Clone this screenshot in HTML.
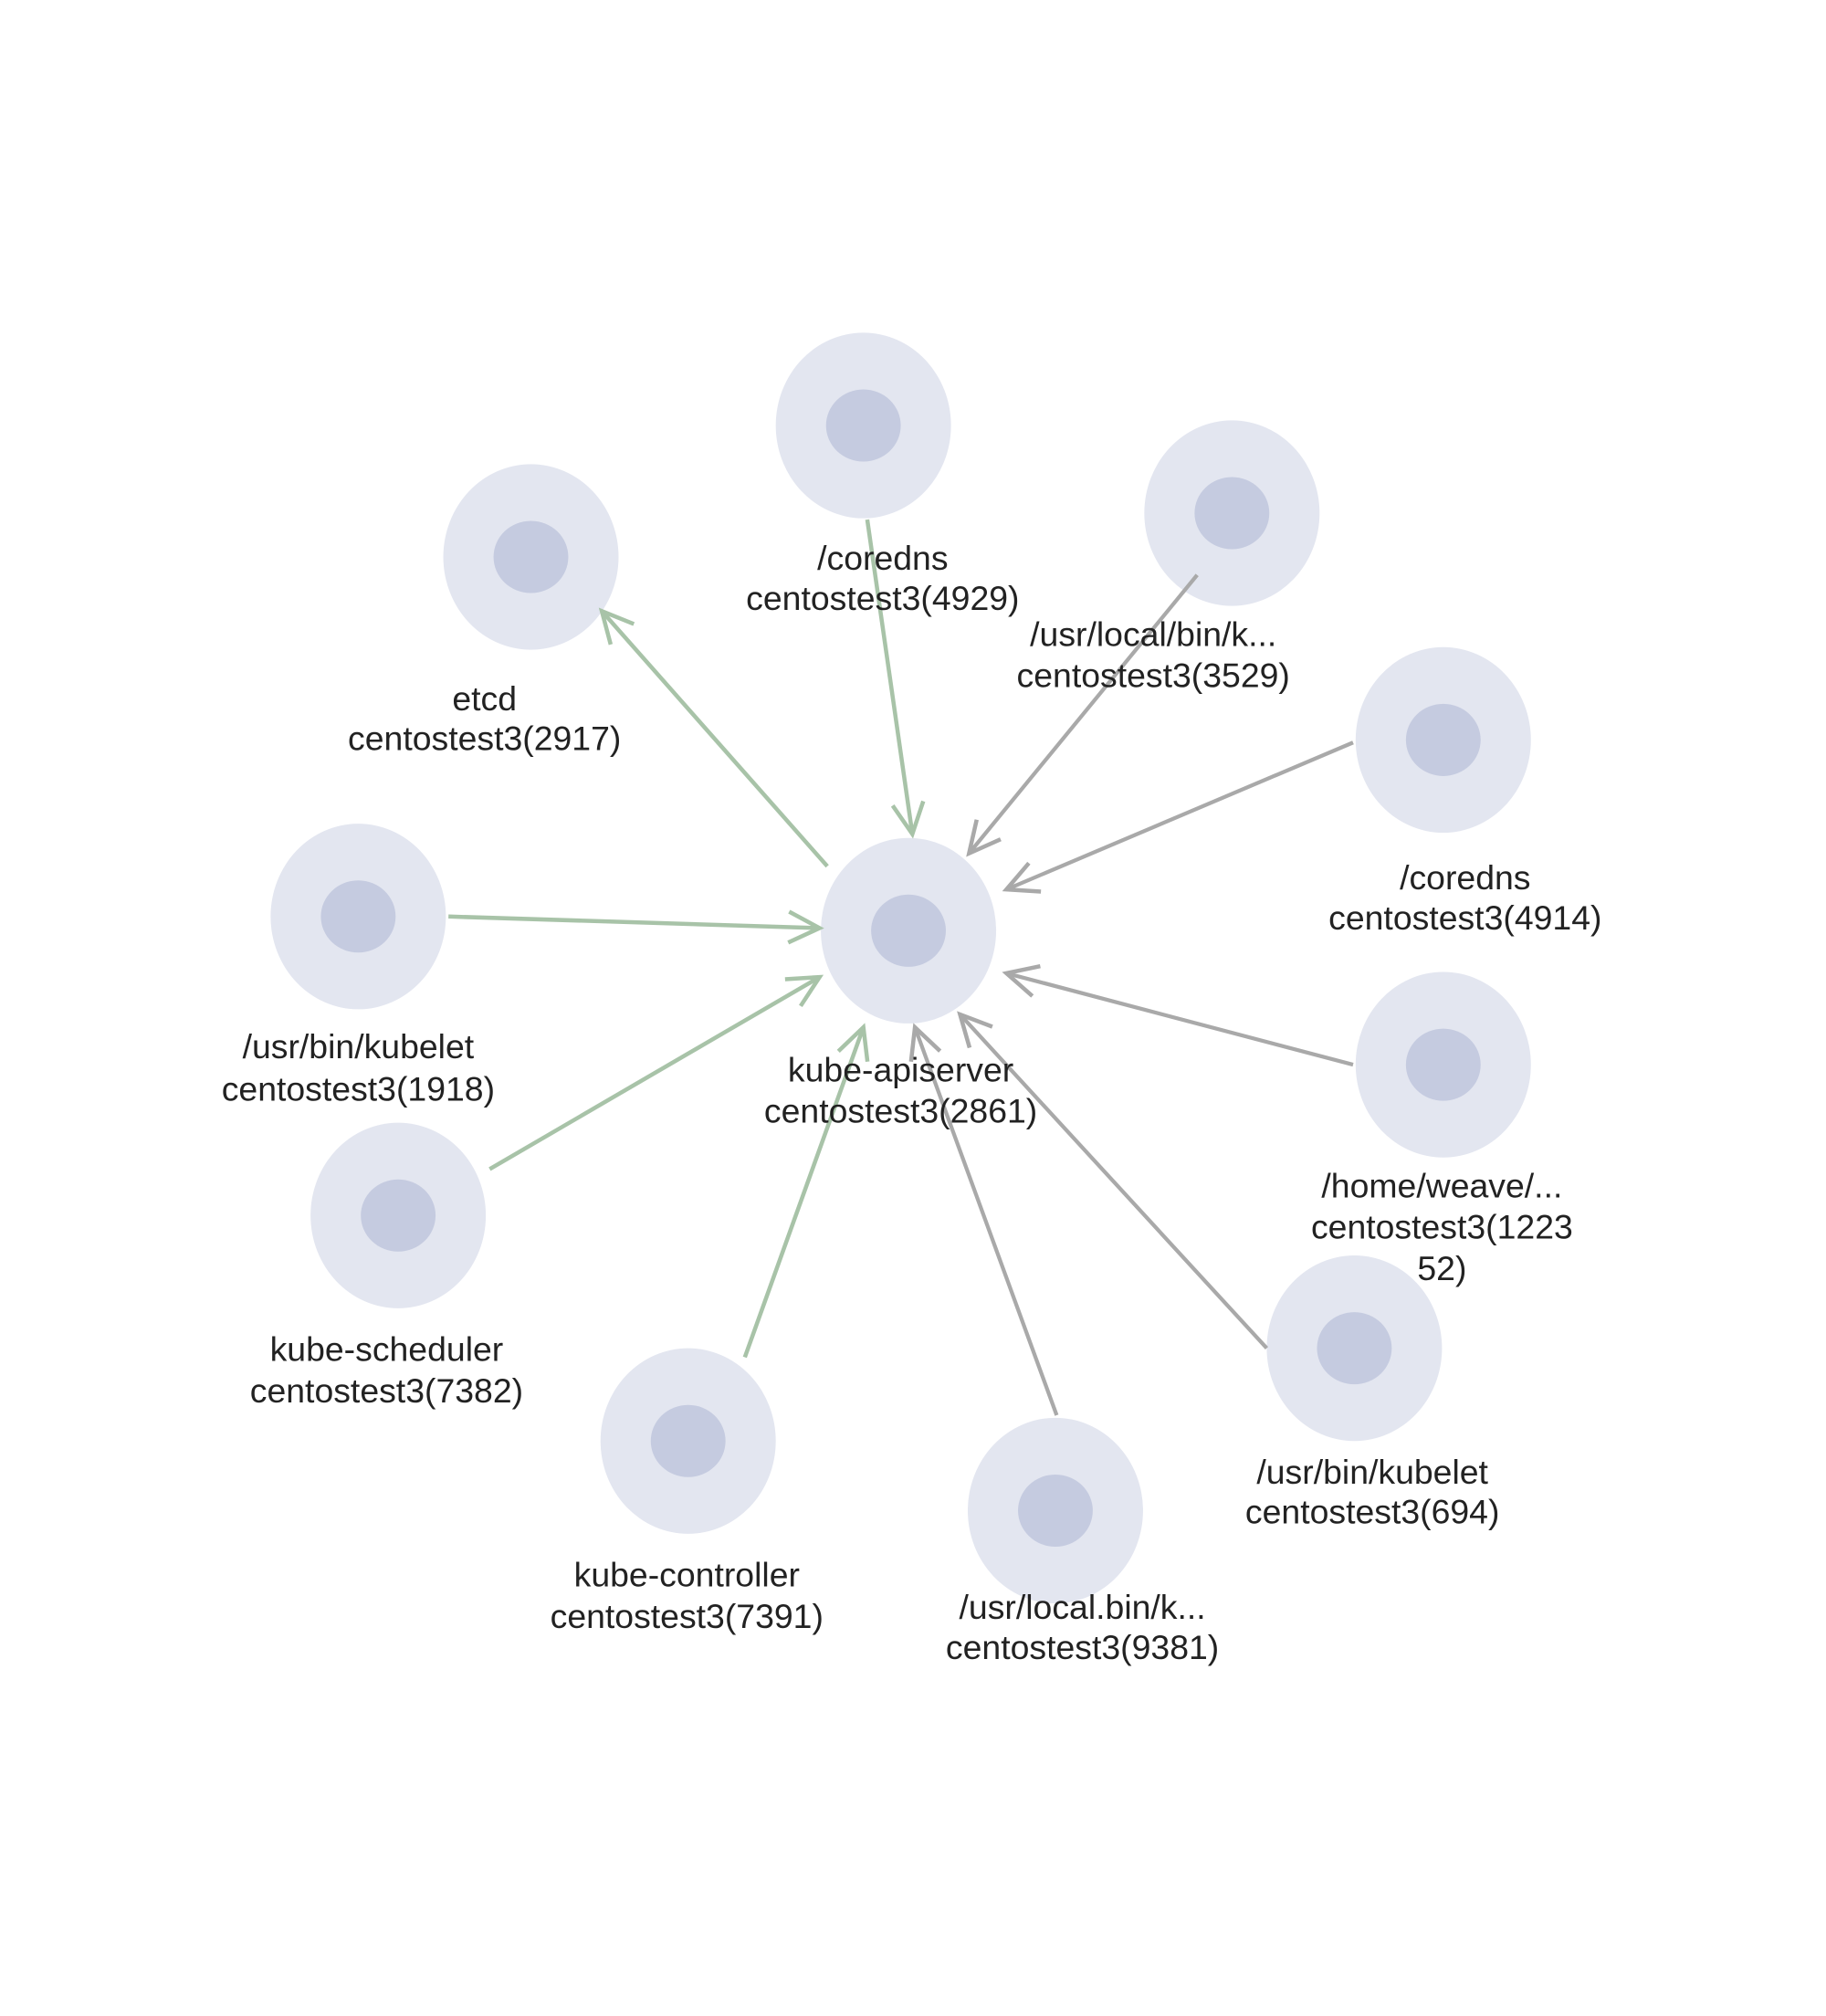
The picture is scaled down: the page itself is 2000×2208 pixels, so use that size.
<!DOCTYPE html>
<html><head><meta charset="utf-8"><style>
html,body{margin:0;padding:0;background:#fff;}
svg{display:block;}
text{font-family:"Liberation Sans",sans-serif;font-size:26.5px;fill:#222;text-anchor:middle;}
</style></head><body>
<svg width="2000" height="2208" viewBox="0 0 1417 1564" xmlns="http://www.w3.org/2000/svg">
<defs>
<marker id="ag" markerUnits="userSpaceOnUse" markerWidth="40" markerHeight="40" refX="26" refY="14" orient="auto" viewBox="0 0 40 28">
<path d="M2,2 L26,14 L2,26" fill="none" stroke="#a8c3a8" stroke-width="3.2"/></marker>
<marker id="ay" markerUnits="userSpaceOnUse" markerWidth="40" markerHeight="40" refX="26" refY="14" orient="auto" viewBox="0 0 40 28">
<path d="M2,2 L26,14 L2,26" fill="none" stroke="#a9a9a9" stroke-width="3.2"/></marker>
</defs>
<g fill="#e3e6f0">
<ellipse cx="705" cy="722" rx="68" ry="72"/>
<ellipse cx="670" cy="330" rx="68" ry="72"/>
<ellipse cx="956" cy="398" rx="68" ry="72"/>
<ellipse cx="1120" cy="574" rx="68" ry="72"/>
<ellipse cx="1120" cy="826" rx="68" ry="72"/>
<ellipse cx="1051" cy="1046" rx="68" ry="72"/>
<ellipse cx="819" cy="1172" rx="68" ry="72"/>
<ellipse cx="534" cy="1118" rx="68" ry="72"/>
<ellipse cx="309" cy="943" rx="68" ry="72"/>
<ellipse cx="278" cy="711" rx="68" ry="72"/>
<ellipse cx="412" cy="432" rx="68" ry="72"/>
</g>
<g fill="#c5cbe0">
<ellipse cx="705" cy="722" rx="29" ry="28"/>
<ellipse cx="670" cy="330" rx="29" ry="28"/>
<ellipse cx="956" cy="398" rx="29" ry="28"/>
<ellipse cx="1120" cy="574" rx="29" ry="28"/>
<ellipse cx="1120" cy="826" rx="29" ry="28"/>
<ellipse cx="1051" cy="1046" rx="29" ry="28"/>
<ellipse cx="819" cy="1172" rx="29" ry="28"/>
<ellipse cx="534" cy="1118" rx="29" ry="28"/>
<ellipse cx="309" cy="943" rx="29" ry="28"/>
<ellipse cx="278" cy="711" rx="29" ry="28"/>
<ellipse cx="412" cy="432" rx="29" ry="28"/>
</g>
<g stroke="#a8c3a8" stroke-width="3.2" fill="none" marker-end="url(#ag)">
<line x1="673" y1="403" x2="708" y2="647"/>
<line x1="642" y1="672" x2="467" y2="474"/>
<line x1="348" y1="711" x2="636" y2="720"/>
<line x1="380" y1="907" x2="636" y2="758"/>
<line x1="578" y1="1053" x2="670" y2="797"/>
</g>
<g stroke="#a9a9a9" stroke-width="3" fill="none" marker-end="url(#ay)">
<line x1="929" y1="446" x2="752" y2="662"/>
<line x1="1050" y1="576" x2="781" y2="690"/>
<line x1="1050" y1="826" x2="781" y2="755"/>
<line x1="983" y1="1046" x2="745" y2="787"/>
<line x1="820" y1="1098" x2="710" y2="797"/>
</g>
<text x="685" y="442">/coredns</text><text x="685" y="473">centostest3(4929)</text>
<text x="895" y="501">/usr/local/bin/k...</text><text x="895" y="533">centostest3(3529)</text>
<text x="376" y="551">etcd</text><text x="376" y="582">centostest3(2917)</text>
<text x="1137" y="690">/coredns</text><text x="1137" y="721">centostest3(4914)</text>
<text x="278" y="821">/usr/bin/kubelet</text><text x="278" y="854">centostest3(1918)</text>
<text x="699" y="839">kube-apiserver</text><text x="699" y="871">centostest3(2861)</text>
<text x="1119" y="929">/home/weave/...</text><text x="1119" y="961">centostest3(1223</text><text x="1119" y="993">52)</text>
<text x="300" y="1056">kube-scheduler</text><text x="300" y="1088">centostest3(7382)</text>
<text x="1065" y="1151">/usr/bin/kubelet</text><text x="1065" y="1182">centostest3(694)</text>
<text x="533" y="1231">kube-controller</text><text x="533" y="1263">centostest3(7391)</text>
<text x="840" y="1256">/usr/local.bin/k...</text><text x="840" y="1287">centostest3(9381)</text>
</svg>
</body></html>
